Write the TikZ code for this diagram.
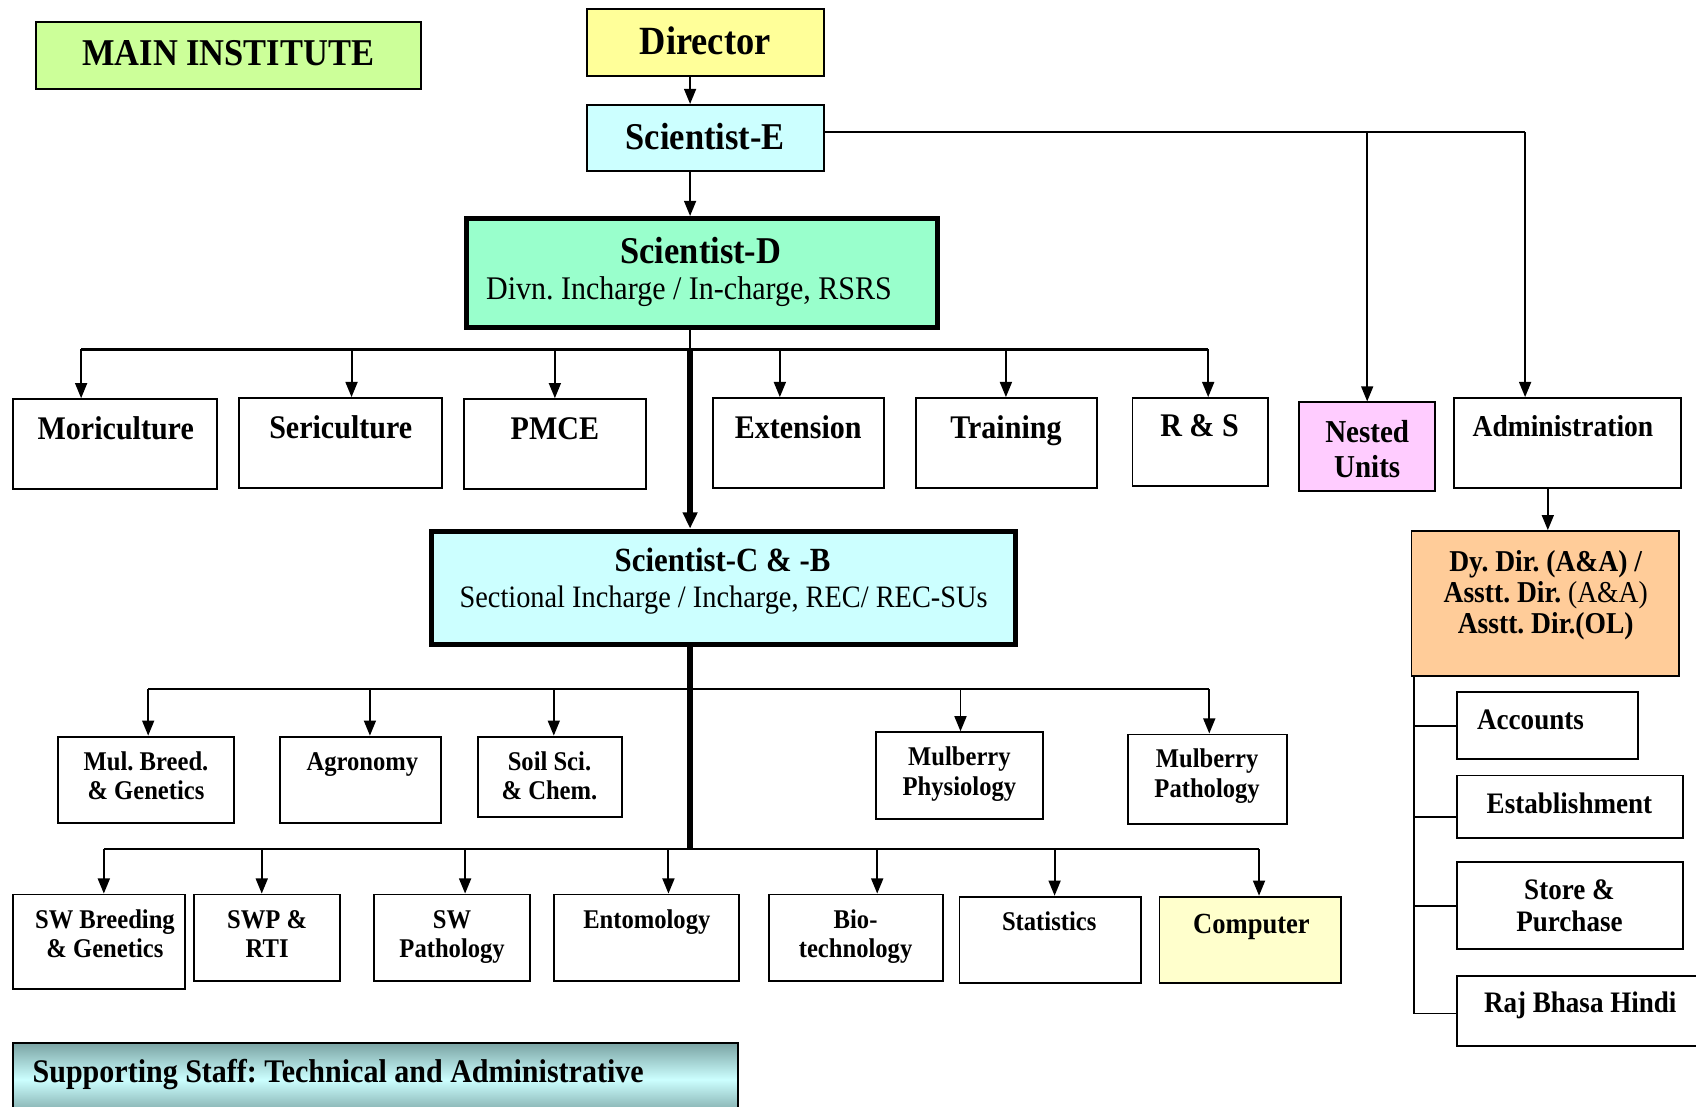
\documentclass[tikz,border=0pt]{standalone}
\usepackage{fontspec}
\setmainfont{Liberation Serif}[FakeStretch=0.91]
\usetikzlibrary{arrows.meta,fit,calc}
\definecolor{mainc}{HTML}{CCFF99}
\definecolor{dirc}{HTML}{FFFF99}
\definecolor{cyanc}{HTML}{CCFFFF}
\definecolor{sdc}{HTML}{99FFCC}
\definecolor{nestc}{HTML}{FFCCFF}
\definecolor{dyc}{HTML}{FFCC99}
\definecolor{compc}{HTML}{FFFFCC}
\definecolor{barc}{HTML}{7AA3A3}
\newcommand\fz[2]{\fontsize{#1}{#2}\selectfont}
\frenchspacing
\begin{document}
\begin{tikzpicture}[x=1pt,y=-1pt,
 box/.style={draw=black, line width=1.7pt, inner sep=0pt},
 thickbox/.style={draw=black, line width=4.6pt, inner sep=0pt},
 tx/.style={inner sep=0pt, anchor=base, align=center},
 ln/.style={line width=1.8pt},
 arr/.style={line width=1.8pt, -{Triangle[length=14pt,width=11pt]}},
 thickarr/.style={line width=5pt, -{Triangle[length=15pt,width=13pt]}},
 lbl/.style={tx, font=\fz{30.5}{33}\bfseries},
 sml/.style={tx, font=\fz{25}{27}\bfseries},
 adm/.style={tx, font=\fz{27.5}{29}\bfseries}]
\useasboundingbox (0,0) rectangle (1568,1023);
\fill[white] (0,0) rectangle (1568,1023);

% boxes
\node[box, fill=mainc, fit={(33,20) (389,82)}] (main) {};
\node[box, fill=dirc, fit={(543,8) (762,70)}] (dir) {};
\node[box, fill=cyanc, fit={(543,97) (762,158)}] (sciE) {};
\node[thickbox, fill=sdc, fit={(431,202) (867,303)}] (sciD) {};
\node[box, fit={(12,369) (201,452)}] (mori) {};
\node[box, fit={(221,368) (409,451)}] (seri) {};
\node[box, fit={(429,369) (597,452)}] (pmce) {};
\node[box, fit={(659,368) (817,451)}] (ext) {};
\node[box, fit={(847,368) (1014,451)}] (train) {};
\node[box, fit={(1047,368) (1172,449)}] (rs) {};
\node[box, fill=nestc, fit={(1201,372) (1327,454)}] (nest) {};
\node[box, fit={(1344,368) (1554,451)}] (admin) {};
\node[thickbox, fill=cyanc, fit={(399,491) (939,596)}] (sciC) {};
\node[box, fill=dyc, fit={(1305,491) (1552,625)}] (dydir) {};
\node[box, fit={(54,681) (216,761)}] (mb) {};
\node[box, fit={(259,681) (408,761)}] (agro) {};
\node[box, fit={(442,681) (575,755)}] (soil) {};
\node[box, fit={(810,677) (964,757)}] (mphys) {};
\node[box, fit={(1043,679) (1190,762)}] (mpath) {};
\node[box, fit={(12,827) (171,914)}] (swb) {};
\node[box, fit={(179,827) (314,907)}] (swp) {};
\node[box, fit={(346,827) (490,907)}] (swpath) {};
\node[box, fit={(512,827) (683,907)}] (ento) {};
\node[box, fit={(711,827) (872,907)}] (bio) {};
\node[box, fit={(887,829) (1055,909)}] (stat) {};
\node[box, fill=compc, fit={(1072,829) (1240,909)}] (comp) {};
\node[box, fit={(1347,640) (1514,702)}] (acc) {};
\node[box, fit={(1347,717) (1556,775)}] (estab) {};
\node[box, fit={(1347,797) (1556,877)}] (store) {};
\node[box, fit={(1347,902) (1610,967)}] (raj) {};
\node[box, top color=barc, bottom color=barc, middle color=cyanc, fit={(12,964) (682,1032)}] (sup) {};

% texts
\node[tx, font=\fz{35}{40}\bfseries] (t-main) at (211,61) {MAIN INSTITUTE};
\node[tx, font=\fz{37}{40}\bfseries] (t-dir) at (652,50) {Director};
\node[tx, font=\fz{35}{40}\bfseries] (t-sciE) at (652,138) {Scientist-E};
\node[tx, font=\fz{35}{40}\bfseries] (t-sciD) at (648,244) {Scientist-D};
\node[tx, font=\fz{30.5}{33}] (t-sciD2) at (637,277) {Divn. Incharge / In-charge, RSRS};
\node[lbl] (t-mori) at (107,406) {Moriculture};
\node[lbl] (t-seri) at (315,405) {Sericulture};
\node[lbl] (t-pmce) at (513,406) {PMCE};
\node[lbl] (t-ext) at (738,405) {Extension};
\node[lbl] (t-train) at (930,405) {Training};
\node[lbl] (t-rs) at (1109,404) {R \& S};
\node[tx, font=\fz{29.5}{32}\bfseries] (t-nest) at (1264,441) {Nested\\Units};
\node[tx, font=\fz{28}{30}\bfseries] (t-admin) at (1445,404) {Administration};
\node[tx, font=\fz{31.3}{34}\bfseries] (t-sciC) at (668,528) {Scientist-C \& -B};
\node[tx, font=\fz{28.8}{31}] (t-sciC2) at (669,562) {Sectional Incharge / Incharge, REC/ REC-SUs};
\node[tx, font=\fz{28}{29}\bfseries] (t-dy) at (1429,586) {Dy. Dir. (A\&A) /\\Asstt. Dir. {\mdseries (A\&A)}\\Asstt. Dir.(OL)};
\node[sml] (t-mb) at (135,739) {Mul. Breed.\\\& Genetics};
\node[sml] (t-agro) at (335,712) {Agronomy};
\node[sml] (t-soil) at (508,739) {Soil Sci.\\\& Chem.};
\node[sml] (t-mphys) at (887,735) {Mulberry\\Physiology};
\node[sml] (t-mpath) at (1116,737) {Mulberry\\Pathology};
\node[sml] (t-swb) at (97,885) {SW Breeding\\\& Genetics};
\node[sml] (t-swp) at (247,885) {SWP \&\\RTI};
\node[sml] (t-swpath) at (418,885) {SW\\Pathology};
\node[sml] (t-ento) at (598,858) {Entomology};
\node[sml] (t-bio) at (791,885) {Bio-\\technology};
\node[sml] (t-stat) at (970,860) {Statistics};
\node[tx, font=\fz{27}{29}\bfseries] (t-comp) at (1157,863) {Computer};
\node[adm] (t-acc) at (1415,674) {Accounts};
\node[adm] (t-estab) at (1451,752) {Establishment};
\node[adm] (t-store) at (1451,861) {Store \&\\Purchase};
\node[adm] (t-raj) at (1461,936) {Raj Bhasa Hindi};
\node[tx, anchor=base west, font=\fz{30.5}{33}\bfseries] (t-sup) at (30,1001) {Supporting Staff: Technical and Administrative};

% spine
\coordinate (sp) at (638,0);
\draw[arr] (sp |- dir.south) -- (sp |- sciE.north);
\draw[arr] (sp |- sciE.south) -- (sp |- sciD.north);
\coordinate (b1) at (638,323);
\coordinate (b1L) at (75,323);
\coordinate (b1R) at (1117,323);
\draw[ln] (sp |- sciD.south) -- (b1);
\draw[line width=2.2pt] (b1L) -- (b1R);
\foreach \x/\n in {75/mori,325/seri,513/pmce,721/ext,930/train,1117/rs}{
  \coordinate (k\n) at (\x,323);
  \draw[arr] (k\n) -- (k\n |- \n.north);
}
\draw[thickarr] (b1) -- (sp |- sciC.north);
\coordinate (b3) at (638,785);
\draw[line width=5pt] (sp |- sciC.south) -- (b3);
% bus 2
\coordinate (b2L) at (137,637);
\coordinate (b2R) at (1118,637);
\draw[ln] (b2L) -- (b2R);
\foreach \x/\n in {137/mb,342/agro,512/soil,888/mphys,1118/mpath}{
  \coordinate (k\n) at (\x,637);
  \draw[arr] (k\n) -- (k\n |- \n.north);
}
% bus 3
\coordinate (b3L) at (96,785);
\coordinate (b3R) at (1164,785);
\draw[ln] (b3L) -- (b3R);
\foreach \x/\n in {96/swb,242/swp,430/swpath,618/ento,811/bio,975/stat,1164/comp}{
  \coordinate (k\n) at (\x,785);
  \draw[arr] (k\n) -- (k\n |- \n.north);
}
% right side
\coordinate (eR) at (1410,122);
\coordinate (eN) at (1264,122);
\draw[ln] (sciE.east |- eR) -- (eR);
\draw[arr] (eN) -- (eN |- nest.north);
\draw[arr] (eR) -- (eR |- admin.north);
\coordinate (ad) at (1431,0);
\draw[arr] (ad |- admin.south) -- (ad |- dydir.north);
% admin branch
\coordinate (av) at (1307,0);
\coordinate (a1) at (1307,671);
\coordinate (a2) at (1307,755);
\coordinate (a3) at (1307,838);
\coordinate (a4) at (1307,937);
\draw[ln] (av |- dydir.south) -- (a4) -- (a4 -| raj.west);
\draw[ln] (a1) -- (a1 -| acc.west);
\draw[ln] (a2) -- (a2 -| estab.west);
\draw[ln] (a3) -- (a3 -| store.west);
\end{tikzpicture}
\end{document}
